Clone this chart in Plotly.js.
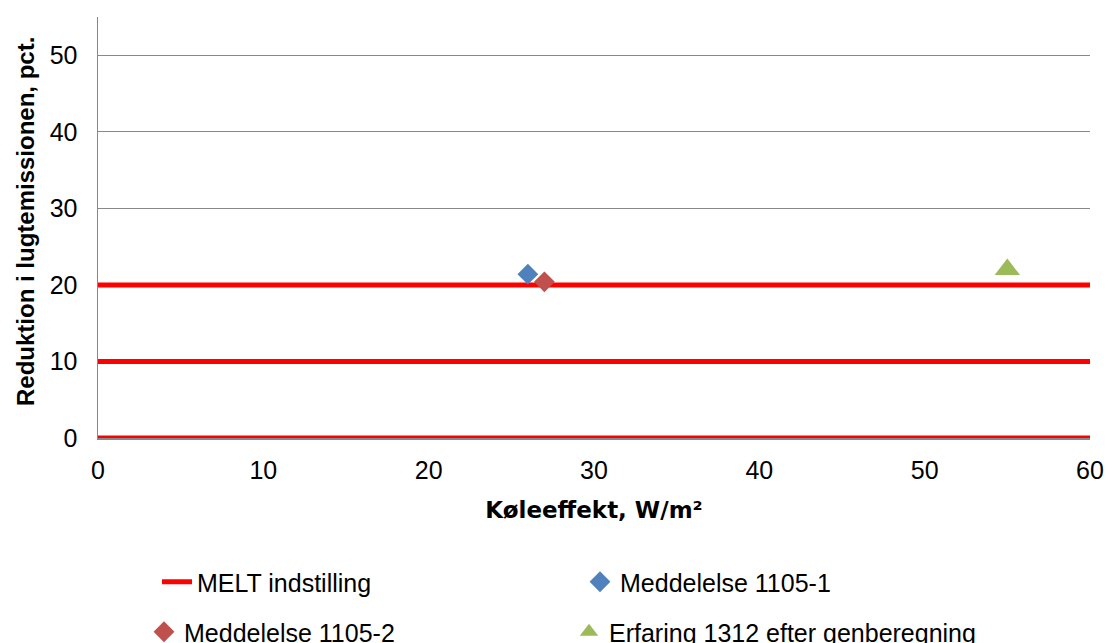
<!DOCTYPE html>
<html>
<head>
<meta charset="utf-8">
<script src="https://cdn.plot.ly/plotly-3.0.1.min.js"></script>
<style>
  html, body { margin: 0; padding: 0; background: #fff; }
  #chart { width: 1110px; height: 643px; }
</style>
</head>
<body>
<div id="chart"></div>
<script>
// MELT setting: horizontal reference levels (pct.) across the cooling range
const meltLevels = [20, 10, 0];
const meltXRange = [0, 60];

// Reported measurements: cooling effect (W/m²) and odour reduction (pct.)
const medd1X = [26];
const medd1Y = [21.4];
const medd2X = [27];
const medd2Y = [20.4];
const erfX = [55];
const erfY = [22];

const xTicks = [0, 10, 20, 30, 40, 50, 60];
const yTicks = [0, 10, 20, 30, 40, 50];

const yTitle = 'Reduktion i lugtemissionen, pct.';
const xTitle = 'Køleeffekt, W/m²';

// Build the broken line for the MELT levels (segments separated by null)
const meltX = [];
const meltY = [];
meltLevels.forEach((lvl, i) => {
  if (i > 0) { meltX.push(null); meltY.push(null); }
  meltX.push(meltXRange[0], meltXRange[1]);
  meltY.push(lvl, lvl);
});

const legendFont = { family: 'Liberation Sans, Arial, sans-serif', size: 25, color: '#000' };
function legendAt(px, py) {
  return {
    x: px / 1110, y: 1 - py / 643,
    xref: 'container', yref: 'container',
    xanchor: 'left', yanchor: 'middle',
    bgcolor: 'rgba(0,0,0,0)', borderwidth: 0,
    font: legendFont
  };
}

const traces = [
  {
    x: meltX, y: meltY, mode: 'lines', name: 'MELT indstilling',
    line: { color: '#FF0000', width: 5 }, legend: 'legend',
    hoverinfo: 'skip'
  },
  {
    x: medd1X, y: medd1Y, mode: 'markers', name: 'Meddelelse 1105-1',
    marker: { symbol: 'diamond', size: 16, color: '#4F81BD' }, legend: 'legend2'
  },
  {
    x: medd2X, y: medd2Y, mode: 'markers', name: 'Meddelelse 1105-2',
    marker: { symbol: 'diamond', size: 16, color: '#C0504D' }, legend: 'legend3'
  },
  {
    x: erfX, y: erfY, mode: 'markers', name: 'Erfaring 1312 efter genberegning',
    marker: { symbol: 'triangle-up', size: 22, color: '#9BBB59' }, legend: 'legend4'
  }
];

const layout = {
  width: 1110, height: 643,
  margin: { l: 98, r: 20, t: 17, b: 205, autoexpand: false },
  paper_bgcolor: '#fff', plot_bgcolor: '#fff',
  showlegend: true,
  font: { family: 'Liberation Sans, Arial, sans-serif', color: '#000' },
  xaxis: {
    range: [0, 60], tickvals: xTicks, ticktext: xTicks.map(String),
    showgrid: false, zeroline: false,
    showline: true, linecolor: '#888', linewidth: 1.5,
    // invisible tick marks keep the labels clear of the axis
    ticks: 'outside', ticklen: 9, tickcolor: 'rgba(0,0,0,0)',
    tickfont: { size: 25, color: '#000' },
    title: {
      text: '<b>' + xTitle + '</b>',
      font: { family: 'DejaVu Sans, sans-serif', size: 23, color: '#000' }
    }
  },
  yaxis: {
    range: [0, 55], tickvals: yTicks, ticktext: yTicks.map(String),
    showgrid: true, gridcolor: '#888', gridwidth: 1,
    zeroline: false,
    showline: true, linecolor: '#888', linewidth: 1.5,
    ticks: 'outside', ticklen: 14, tickcolor: 'rgba(0,0,0,0)',
    tickfont: { size: 25, color: '#000' },
    title: { text: '' }
  },
  // vertical axis title, placed beside the tick labels
  annotations: [{
    text: '<b>' + yTitle + '</b>',
    xref: 'paper', yref: 'paper',
    x: (26 - 98) / 992, y: (438 - 222) / 421,
    xanchor: 'center', yanchor: 'middle',
    textangle: -90, showarrow: false,
    font: { family: 'Liberation Sans, Arial, sans-serif', size: 24, color: '#000' }
  }],
  legend: legendAt(157, 582),
  legend2: legendAt(580, 582),
  legend3: legendAt(144, 632),
  legend4: legendAt(569, 632)
};

Plotly.newPlot('chart', traces, layout, { displayModeBar: false, staticPlot: true });
</script>
</body>
</html>
